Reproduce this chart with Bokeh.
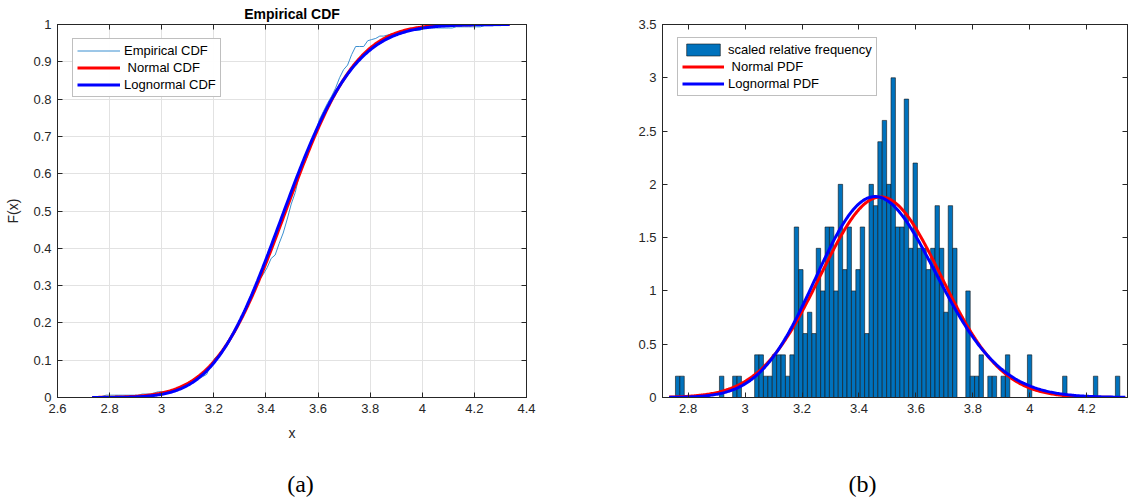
import math
import numpy as np
from bokeh.plotting import figure
from bokeh.layouts import row, column
from bokeh.models import (ColumnDataSource, FixedTicker, LinearAxis, Legend, LegendItem,
                          CustomJSTickFormatter, Range1d, Label)
from bokeh.embed import file_html
from bokeh.resources import INLINE

# ---------------------------------------------------------------- data
# histogram of the sample: 101 equal bins starting at bin_start
bin_start = 2.7555
bin_width = 0.01545
rel_freq = [
    0.2, 0.2, 0.0, 0.0, 0.0, 0.0, 0.0, 0.0, 0.0, 0.0,
    0.2, 0.0, 0.0, 0.2, 0.2, 0.0, 0.0, 0.0, 0.4, 0.4,
    0.2, 0.2, 0.4, 0.4, 0.4, 0.2, 0.4, 1.6, 1.2, 0.6,
    0.8, 0.6, 1.4, 1.0, 1.6, 1.6, 1.0, 2.0, 1.2, 1.6,
    1.0, 1.2, 1.6, 0.6, 2.0, 1.8, 2.4, 2.6, 2.0, 3.0,
    1.6, 1.6, 2.8, 1.4, 2.2, 1.4, 1.4, 1.2, 1.4, 1.8,
    1.4, 0.8, 1.8, 1.4, 0.0, 0.0, 1.0, 0.2, 0.2, 0.4,
    0.0, 0.2, 0.2, 0.0, 0.2, 0.4, 0.0, 0.0, 0.0, 0.0,
    0.4, 0.0, 0.0, 0.0, 0.0, 0.0, 0.0, 0.0, 0.2, 0.0,
    0.0, 0.0, 0.0, 0.0, 0.0, 0.2, 0.0, 0.0, 0.0, 0.0,
    0.2,
]

# fitted distributions
norm_mu, norm_sigma = 3.476, 0.212
logn_mu, logn_sigma = 1.2440, 0.0611
fit_x_min, fit_x_max = 2.733, 4.335

# axes
cdf_xticks = [2.6, 2.8, 3.0, 3.2, 3.4, 3.6, 3.8, 4.0, 4.2, 4.4]
cdf_yticks = [0.0, 0.1, 0.2, 0.3, 0.4, 0.5, 0.6, 0.7, 0.8, 0.9, 1.0]
pdf_xticks = [2.8, 3.0, 3.2, 3.4, 3.6, 3.8, 4.0, 4.2]
pdf_yticks = [0.0, 0.5, 1.0, 1.5, 2.0, 2.5, 3.0, 3.5]

# ---------------------------------------------------------------- derived series
freq = np.array(rel_freq)
edges = bin_start + bin_width * np.arange(len(freq) + 1)
centers = 0.5 * (edges[:-1] + edges[1:])

# empirical CDF accumulated over the bins
cum = np.concatenate([[0.0], np.cumsum(freq)])
cum = cum / cum[-1]

xs = np.linspace(fit_x_min, fit_x_max, 400)
norm_pdf = np.exp(-0.5 * ((xs - norm_mu) / norm_sigma) ** 2) / (norm_sigma * math.sqrt(2 * math.pi))
logn_pdf = np.exp(-0.5 * ((np.log(xs) - logn_mu) / logn_sigma) ** 2) / (xs * logn_sigma * math.sqrt(2 * math.pi))
norm_cdf = np.array([0.5 * (1 + math.erf((v - norm_mu) / (norm_sigma * math.sqrt(2)))) for v in xs])
logn_cdf = np.array([0.5 * (1 + math.erf((math.log(v) - logn_mu) / (logn_sigma * math.sqrt(2)))) for v in xs])

# ---------------------------------------------------------------- styling helpers
AX = "#262626"
FONT = "Liberation Sans"
fmt_code = "return Number(tick.toFixed(2)).toString();"


def style_axis(ax, ticks, show_labels=True):
    ax.ticker = FixedTicker(ticks=ticks)
    ax.axis_line_color = AX
    ax.major_tick_line_color = AX
    ax.major_tick_in = 5
    ax.major_tick_out = 0
    ax.minor_tick_line_color = None
    ax.major_label_text_font = FONT
    ax.major_label_text_color = AX
    ax.axis_label_text_font = FONT
    ax.axis_label_text_font_size = "14px"
    ax.axis_label_text_font_style = "normal"
    ax.axis_label_text_color = AX
    if show_labels:
        ax.formatter = CustomJSTickFormatter(code=fmt_code)
        ax.major_label_text_font_size = "13px"
        ax.major_label_standoff = 6
    else:
        ax.formatter = CustomJSTickFormatter(code="return '';")
        ax.major_label_text_font_size = "0px"
        ax.major_label_standoff = 0


def add_box(p, xticks, yticks):
    top = LinearAxis()
    right = LinearAxis()
    style_axis(top, xticks, show_labels=False)
    style_axis(right, yticks, show_labels=False)
    p.add_layout(top, "above")
    p.add_layout(right, "right")


# ---------------------------------------------------------------- (a) empirical CDF
pa = figure(width=564, height=450, x_range=Range1d(2.6, 4.4), y_range=Range1d(0, 1),
            output_backend="svg", toolbar_location=None,
            min_border_left=57, min_border_right=38, min_border_top=24, min_border_bottom=53,
            title="Empirical CDF")
pa.title.text_font = FONT
pa.title.text_font_size = "14px"
pa.title.text_font_style = "bold"
pa.title.text_color = "black"
pa.title.align = "center"
pa.title.standoff = 5
pa.outline_line_color = AX
style_axis(pa.xaxis[0], cdf_xticks)
style_axis(pa.yaxis[0], cdf_yticks)
pa.xaxis.axis_label = "x"
pa.xaxis.axis_label_standoff = 9
pa.yaxis.axis_label = "F(x)"
pa.yaxis.axis_label_standoff = 9
pa.xgrid.ticker = FixedTicker(ticks=cdf_xticks)
pa.ygrid.ticker = FixedTicker(ticks=cdf_yticks)
pa.grid.grid_line_color = "#e2e2e2"
add_box(pa, cdf_xticks, cdf_yticks)

src_emp = ColumnDataSource(dict(x=edges, y=cum))
src_fit = ColumnDataSource(dict(x=xs, npdf=norm_pdf, lpdf=logn_pdf, ncdf=norm_cdf, lcdf=logn_cdf))

r_emp = pa.line("x", "y", source=src_emp, line_color="#3b8fd0", line_width=1)
r_ncdf = pa.line("x", "ncdf", source=src_fit, line_color="#ff0000", line_width=3)
r_lcdf = pa.line("x", "lcdf", source=src_fit, line_color="#0000ff", line_width=3)

leg_a = Legend(items=[LegendItem(label="Empirical CDF", renderers=[r_emp]),
                      LegendItem(label=" Normal CDF", renderers=[r_ncdf]),
                      LegendItem(label="Lognormal CDF", renderers=[r_lcdf])],
               location=(15, 300), glyph_width=43, glyph_height=15, label_height=15,
               label_standoff=4, spacing=2, padding=4, margin=0,
               label_text_font=FONT, label_text_font_size="13px", label_text_color="black",
               border_line_color="#808080", border_line_width=1, background_fill_color="white")
pa.add_layout(leg_a, "center")

# ---------------------------------------------------------------- (b) histogram and PDFs
pb = figure(width=564, height=450, x_range=Range1d(2.710, 4.343), y_range=Range1d(0, 3.5),
            output_backend="svg", toolbar_location=None,
            min_border_left=98, min_border_right=1, min_border_top=24, min_border_bottom=53)
pb.outline_line_color = AX
style_axis(pb.xaxis[0], pdf_xticks)
style_axis(pb.yaxis[0], pdf_yticks)
pb.grid.grid_line_color = None
add_box(pb, pdf_xticks, pdf_yticks)

src_hist = ColumnDataSource(dict(x=centers, top=freq))
r_bar = pb.vbar(x="x", top="top", bottom=0, width=bin_width, source=src_hist,
                fill_color="#0072bd", line_color="#141414", line_width=0.6)
r_npdf = pb.line("x", "npdf", source=src_fit, line_color="#ff0000", line_width=3)
r_lpdf = pb.line("x", "lpdf", source=src_fit, line_color="#0000ff", line_width=3)

leg_b = Legend(items=[LegendItem(label="scaled relative frequency", renderers=[r_bar]),
                      LegendItem(label=" Normal PDF", renderers=[r_npdf]),
                      LegendItem(label="Lognormal PDF", renderers=[r_lpdf])],
               location=(15, 301), glyph_width=42, glyph_height=15, label_height=15,
               label_standoff=4, spacing=2, padding=4, margin=0,
               label_text_font=FONT, label_text_font_size="13px", label_text_color="black",
               border_line_color="#808080", border_line_width=1, background_fill_color="white")
pb.add_layout(leg_b, "center")

# ---------------------------------------------------------------- panel captions strip
caps = figure(width=1128, height=51, x_range=Range1d(0, 1128), y_range=Range1d(0, 51),
              x_axis_type=None, y_axis_type=None, output_backend="svg", toolbar_location=None,
              min_border=0, outline_line_color=None)
caps.grid.visible = False
for text, cx in (("(a)", 300), ("(b)", 862)):
    caps.add_layout(Label(x=cx, y=18, x_units="screen", y_units="screen", text=text,
                          text_font="Liberation Serif", text_font_size="24px", text_color="black",
                          text_align="center", text_baseline="middle"))

layout = column(row(pa, pb), caps)
open("out.html", "w").write(file_html(layout, INLINE))
